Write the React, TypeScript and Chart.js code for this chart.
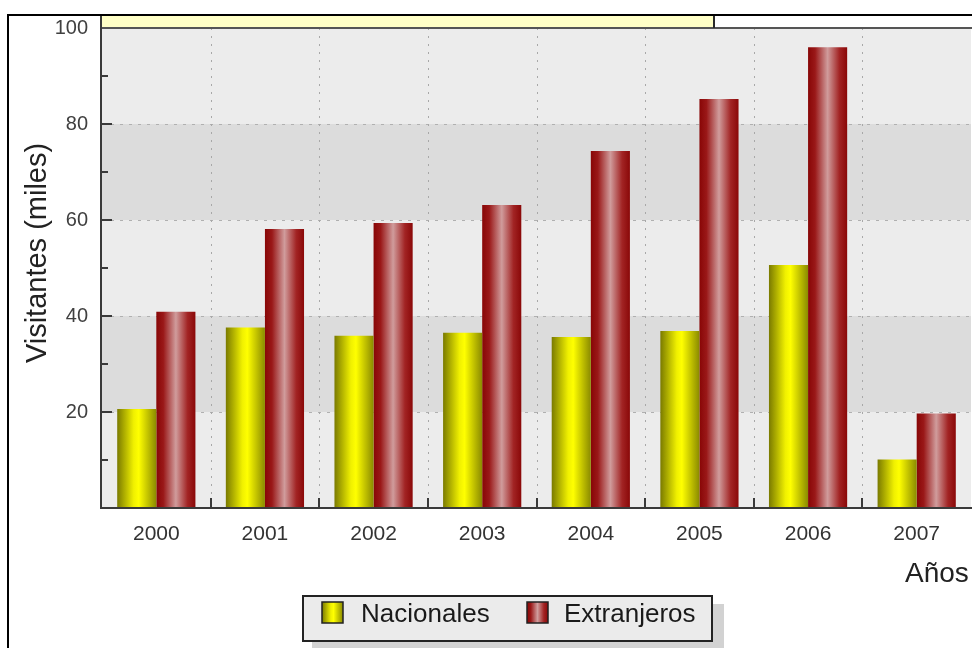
import React, { useEffect, useRef } from "react";
import { Chart, registerables } from "chart.js";

Chart.register(...registerables);

const years = ["2000", "2001", "2002", "2003", "2004", "2005", "2006", "2007"];
const nacionales = [20.6, 37.6, 35.9, 36.5, 35.6, 36.9, 50.6, 10.1];
const extranjeros = [40.9, 58.1, 59.4, 63.1, 74.4, 85.2, 96.0, 19.7];
const yTickLabels = [20, 40, 60, 80, 100];
const yMinorTicks = [10, 30, 50, 70, 90];
const seriesNames = ["Nacionales", "Extranjeros"];
const yTitle = "Visitantes (miles)";
const xTitle = "Años";

const FONT = "'Liberation Sans', Arial, sans-serif";
const CAT_PCT = 0.72;

type Stop = [number, string];
const yellowStops: Stop[] = [
  [0, "#7a7a00"],
  [0.42, "#f0f000"],
  [0.55, "#ffff00"],
  [1, "#8a8a00"],
];
const redStops: Stop[] = [
  [0, "#880606"],
  [0.18, "#9a1818"],
  [0.5, "#d09c9c"],
  [0.8, "#a22424"],
  [1, "#8a0808"],
];
const stopsBySeries = [yellowStops, redStops];

function grad(ctx: CanvasRenderingContext2D, left: number, width: number, stops: Stop[]) {
  const g = ctx.createLinearGradient(left, 0, left + width, 0);
  stops.forEach(([o, c]) => g.addColorStop(o, c));
  return g;
}

const decorPlugin = {
  id: "decor",
  beforeDraw(chart: any) {
    const { ctx } = chart;
    ctx.save();
    ctx.fillStyle = "#ffffff";
    ctx.fillRect(0, 0, chart.width, chart.height);
    ctx.restore();
  },
  beforeDatasetsDraw(chart: any) {
    const { ctx, chartArea: a, scales } = chart;
    const y = scales.y;
    ctx.save();
    for (let i = 0; i < 5; i++) {
      const top = y.getPixelForValue((i + 1) * 20);
      const bot = y.getPixelForValue(i * 20);
      ctx.fillStyle = i % 2 === 1 ? "#dcdcdc" : "#ececec";
      ctx.fillRect(a.left, top, a.right - a.left, bot - top);
    }
    ctx.strokeStyle = "#b0b0b0";
    ctx.lineWidth = 1;
    ctx.setLineDash([3, 6]);
    for (const v of yTickLabels) {
      if (v >= 100) continue;
      const py = Math.round(y.getPixelForValue(v)) + 0.5;
      ctx.beginPath();
      ctx.moveTo(a.left, py);
      ctx.lineTo(a.right, py);
      ctx.stroke();
    }
    ctx.strokeStyle = "#a8a8a8";
    ctx.setLineDash([2, 6]);
    const n = years.length;
    const cw = (a.right - a.left) / n;
    for (let i = 1; i < n; i++) {
      const px = Math.round(a.left + cw * i) + 0.5;
      ctx.beginPath();
      ctx.moveTo(px, a.top);
      ctx.lineTo(px, a.bottom);
      ctx.stroke();
    }
    ctx.restore();
  },
  afterDatasetsDraw(chart: any) {
    const { ctx, chartArea: a, scales } = chart;
    const y = scales.y;
    ctx.save();
    ctx.strokeStyle = "#3a3a3a";
    ctx.lineWidth = 2;
    for (const v of yTickLabels) {
      const py = Math.round(y.getPixelForValue(v));
      ctx.beginPath();
      ctx.moveTo(a.left, py);
      ctx.lineTo(a.left + 10, py);
      ctx.stroke();
    }
    for (const v of yMinorTicks) {
      const py = Math.round(y.getPixelForValue(v));
      ctx.beginPath();
      ctx.moveTo(a.left, py);
      ctx.lineTo(a.left + 6, py);
      ctx.stroke();
    }
    const n = years.length;
    const cw = (a.right - a.left) / n;
    for (let i = 1; i < n; i++) {
      const px = Math.round(a.left + cw * i);
      ctx.beginPath();
      ctx.moveTo(px, a.bottom - 10);
      ctx.lineTo(px, a.bottom);
      ctx.stroke();
    }
    ctx.beginPath();
    ctx.moveTo(a.left - 1, 15);
    ctx.lineTo(a.left - 1, a.bottom + 1);
    ctx.stroke();
    ctx.beginPath();
    ctx.moveTo(a.left - 2, a.bottom);
    ctx.lineTo(chart.width, a.bottom);
    ctx.stroke();
    ctx.strokeStyle = "#555555";
    ctx.beginPath();
    ctx.moveTo(a.left, a.top);
    ctx.lineTo(chart.width, a.top);
    ctx.stroke();
    ctx.restore();
  },
  afterDraw(chart: any) {
    const { ctx, chartArea: a } = chart;
    ctx.save();
    ctx.fillStyle = "#ffffc6";
    ctx.fillRect(a.left, 15, 714 - a.left, a.top - 16);
    ctx.strokeStyle = "#2a2a2a";
    ctx.lineWidth = 2;
    ctx.beginPath();
    ctx.moveTo(714, 15);
    ctx.lineTo(714, a.top);
    ctx.stroke();
    ctx.strokeStyle = "#000000";
    ctx.lineWidth = 2;
    ctx.beginPath();
    ctx.moveTo(8, chart.height + 5);
    ctx.lineTo(8, 15);
    ctx.lineTo(chart.width + 5, 15);
    ctx.stroke();

    ctx.fillStyle = "#222222";
    ctx.font = `29px ${FONT}`;
    ctx.save();
    ctx.translate(46, 253);
    ctx.rotate(-Math.PI / 2);
    ctx.textAlign = "center";
    ctx.textBaseline = "alphabetic";
    ctx.fillText(yTitle, 0, 0);
    ctx.restore();
    ctx.font = `28px ${FONT}`;
    ctx.textAlign = "left";
    ctx.textBaseline = "alphabetic";
    ctx.fillText(xTitle, 905, 582);

    const lx = 303, ly = 596, lw = 409, lh = 45;
    ctx.fillStyle = "#d2d2d2";
    ctx.fillRect(lx + 9, ly + 8, lw + 3, lh + 6);
    ctx.fillStyle = "#ebebeb";
    ctx.fillRect(lx, ly, lw, lh);
    ctx.strokeStyle = "#222222";
    ctx.lineWidth = 2;
    ctx.strokeRect(lx, ly, lw, lh);
    const swatchX = [322, 527];
    const textX = [361, 564];
    ctx.font = `26px ${FONT}`;
    for (let i = 0; i < 2; i++) {
      const sx = swatchX[i], sy = 602, s = 21;
      ctx.fillStyle = grad(ctx, sx, s, stopsBySeries[i]);
      ctx.fillRect(sx, sy, s, s);
      ctx.strokeStyle = "#222222";
      ctx.lineWidth = 1.5;
      ctx.strokeRect(sx, sy, s, s);
      ctx.fillStyle = "#1a1a1a";
      ctx.fillText(seriesNames[i], textX[i], 622);
    }
    ctx.restore();
  },
};

function barColor(c: any) {
  const chart = c.chart;
  const a = chart.chartArea;
  const stops = stopsBySeries[c.datasetIndex] || yellowStops;
  if (!a || c.dataIndex === undefined) return stops[1][1];
  const cw = (a.right - a.left) / years.length;
  const group = cw * CAT_PCT;
  const bw = group / 2;
  const center = a.left + cw * (c.dataIndex + 0.5);
  const left = center - group / 2 + c.datasetIndex * bw;
  return grad(chart.ctx, left, bw, stops);
}

export default function App() {
  const ref = useRef<HTMLCanvasElement>(null);
  useEffect(() => {
    if (!ref.current) return;
    const chart = new Chart(ref.current, {
      type: "bar",
      data: {
        labels: years,
        datasets: [
          { label: seriesNames[0], data: nacionales, backgroundColor: barColor, borderWidth: 0 },
          { label: seriesNames[1], data: extranjeros, backgroundColor: barColor, borderWidth: 0 },
        ],
      },
      options: {
        responsive: false,
        animation: false,
        devicePixelRatio: 1,
        layout: { padding: { top: 28, left: 0, right: 1, bottom: 0 } },
        plugins: { legend: { display: false }, tooltip: { enabled: false }, title: { display: false } },
        datasets: { bar: { categoryPercentage: CAT_PCT, barPercentage: 1 } },
        scales: {
          x: {
            offset: true,
            afterFit: (s: any) => { s.height = 140; },
            grid: { display: false, drawTicks: false },
            border: { display: false },
            ticks: { font: { family: FONT, size: 21 }, color: "#333333", padding: 14, maxRotation: 0, autoSkip: false },
          },
          y: {
            min: 0,
            max: 100,
            afterFit: (s: any) => { s.width = 102; },
            afterBuildTicks: (s: any) => { s.ticks = yTickLabels.map((v) => ({ value: v })); },
            grid: { display: false, drawTicks: false },
            border: { display: false },
            ticks: { font: { family: FONT, size: 20 }, color: "#404040", padding: 14 },
          },
        },
      } as any,
      plugins: [decorPlugin],
    });
    return () => chart.destroy();
  }, []);
  return (
    <div style={{ position: "fixed", left: 0, top: 0, width: 972, height: 648 }}>
      <canvas ref={ref} width={972} height={648} style={{ display: "block" }} />
    </div>
  );
}
